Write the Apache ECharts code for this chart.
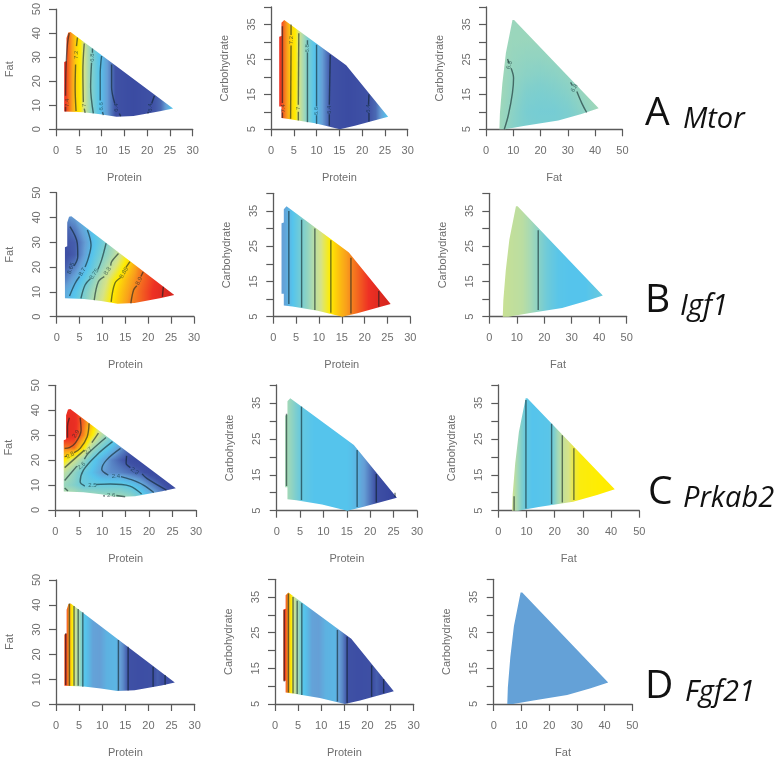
<!DOCTYPE html>
<html><head><meta charset="utf-8">
<style>html,body{margin:0;padding:0;background:#fff}#c{width:784px;height:760px;filter:blur(0.45px)}</style>
<script src="https://cdn.jsdelivr.net/npm/echarts@6/dist/echarts.min.js"></script>
</head><body><div id="c"></div>
<script>
// ---- axis ticks
const proteinTicks=[0,5,10,15,20,25,30];
const fatXTicks=[0,10,20,30,40,50];
const fatYTicks=[0,10,20,30,40,50];
const carbLabelled=[5,15,25,35];
// ---- region outlines
const regionProteinFat=[[1.8,7.4],[1.8,28],[2.3,28.4],[2.3,38],[2.7,40.3],[3.2,40.5],[25.7,8.7],[22.8,7.5],[17,5.5],[13.3,5.2],[9.7,6.3],[6,7.1]];
const regionProteinCarb=[[2.3,8.2],[2.3,11.5],[1.8,11.5],[1.8,31.5],[2.3,31.7],[2.3,35.5],[2.9,36.3],[16.5,23.3],[25.7,8.6],[18.4,6],[15.1,5],[9.7,6.7],[4.2,7.9]];
const regionFatCarb=[[4.9,5],[5.1,9.6],[6,18.2],[7.3,26.9],[9.7,36.3],[10.3,36.3],[41.3,11],[35,9.4],[26.5,7.5],[14.3,6],[7,5]];
// ---- value ranges per gene
const mtorRange=[6.3,7.5], igf1Range=[8.61,8.96], prkab2Range=[2.25,2.95], fgf21Range=[0,1];
// ---- Mtor
const mtorProteinX=[1.8,2.5,3.5,4.5,5.3,6.3,8,9,10,11,13,17,21.5,23,25.7];
const mtorProteinV=[7.42,7.36,7.26,7.16,7.12,7,6.8,6.71,6.63,6.56,6.4,6.35,6.4,6.44,6.68];
const mtorFatX=[5,10,15,20,25,30,35,41];
const mtorCarbY=[5,10,15,20,25,30,36];
const mtorFatCarbV=[
[6.88,6.82,6.79,6.78,6.78,6.79,6.81,6.85],
[6.88,6.83,6.78,6.77,6.77,6.79,6.83,6.88],
[6.89,6.84,6.8,6.79,6.8,6.82,6.86,6.9],
[6.89,6.85,6.83,6.82,6.83,6.85,6.88,6.9],
[6.89,6.86,6.85,6.85,6.86,6.87,6.89,6.9],
[6.88,6.87,6.87,6.87,6.87,6.88,6.89,6.9],
[6.88,6.87,6.87,6.87,6.87,6.88,6.89,6.9]];
const mtorPFLines=[[[2.9,40],[2.5,35.2],[2.2,25.7],[2.1,14]],[[2.1,9.3],[2.1,7.4]],[[4.7,38.2],[4.5,34.6]],[[4.3,27],[4.2,17.5],[4.4,7.6]],[[6.2,35.7],[5.9,24.3],[6,11.3]],[[6.2,8.6],[6.4,6.8]],[[8,33.6],[8,31.8]],[[7.8,27.7],[7.6,17.5],[8.2,6.6]],[[10,30.5],[9.7,23],[9.7,12]],[[10.2,7.2],[10.4,5.9]],[[12.2,27],[12.2,17.5],[12.9,10.7]],[[13.9,6.6],[14.2,5.4]],[[21.6,14],[21,10.7]],[[20.3,7.2],[20.1,6.6]]];
const mtorPFLabels=[[2.5,11,'7.4',90],[4.4,31,'7.2',90],[6.2,10,'7',90],[8,29.8,'6.8',90],[10,9.6,'6.6',90],[13.3,9,'6.4',90],[20.7,9,'6.4',90]];
const mtorPCLines=[[[2.5,34.5],[2.5,12.5]],[[2.5,9.8],[2.5,8.2]],[[4.4,35],[4.4,32]],[[4.4,29],[4.3,8]],[[6.1,32.5],[6,12]],[[6,10],[6,7.5]],[[8,30.5],[8,29.3]],[[8,27],[8,7]],[[10,29.2],[10,11.5]],[[10,9],[10,6.5]],[[13,26.3],[12.8,12]],[[12.8,9.3],[12.8,6]],[[21.5,15],[21.4,12]],[[21.5,9.7],[21.5,7.2]]];
const mtorPCLabels=[[2.6,11,'7.4',90],[4.4,30.5,'7.2',90],[6.1,11,'7',90],[8,28.2,'6.8',90],[10,10.2,'6.6',90],[12.9,10.6,'6.4',90],[21.4,10.9,'6.4',90]];
const mtorFCLines=[[[7.9,25.1],[8.4,24]],[[9.2,22.5],[10.1,19.7],[9.7,15.4],[8.2,9.1],[6.7,5]],[[31,18.4],[31.7,17.5]],[[33.3,15.8],[35.1,12.5],[36.9,9.8]]];
const mtorFCLabels=[[8.6,23.4,'6.8',75],[32.4,16.8,'6.8',60]];
// ---- Igf1
const igf1GridX=[2,4,6,8,10,12,14,16,18,20,22,24,26];
const igf1GridY=[5,10,15,20,25,30,35,40];
const igf1ProteinFatV=[
[8.695,8.725,8.76,8.795,8.825,8.85,8.875,8.9,8.91,8.925,8.94,8.955,8.97],
[8.69,8.715,8.75,8.785,8.815,8.845,8.87,8.893,8.91,8.925,8.94,8.955,8.97],
[8.665,8.69,8.725,8.765,8.805,8.835,8.86,8.885,8.905,8.92,8.935,8.95,8.97],
[8.645,8.665,8.695,8.735,8.775,8.81,8.84,8.87,8.9,8.92,8.935,8.95,8.97],
[8.635,8.645,8.68,8.72,8.755,8.785,8.82,8.855,8.89,8.92,8.935,8.95,8.97],
[8.64,8.645,8.675,8.71,8.74,8.775,8.81,8.85,8.89,8.92,8.935,8.95,8.97],
[8.645,8.66,8.69,8.72,8.75,8.78,8.81,8.85,8.89,8.92,8.935,8.95,8.97],
[8.67,8.68,8.71,8.74,8.77,8.8,8.83,8.86,8.89,8.92,8.935,8.95,8.97]];
const igf1PFLines=[[[2.9,36.3],[4.5,29.6],[4.6,24.2],[3.8,20.5]],[[6.7,35],[7.5,28.9],[6.9,23.5],[6.2,20]],[[5,16.2],[4,13.4],[2.8,8.3]],[[10.8,29.6],[9.8,22.8],[9,19]],[[7.4,15.4],[6.2,12.8],[5.3,7.4]],[[13.5,25.5],[12,22.2],[11.8,20.6]],[[10.4,16.2],[9.1,14.1],[8.2,6.7]],[[16,22.2],[15.1,19.8]],[[14,15.8],[12.7,13.4],[11.9,6]],[[18.9,18.1],[18.4,16.2]],[[17.5,12.5],[16.8,10.8],[16.2,5.4]],[[23.3,12.1],[23.1,8]]];
const igf1PFLabels=[[3.1,19.5,'8.65',70],[5.6,18.1,'8.7',60],[8.2,17.2,'8.75',55],[11.1,18.4,'8.8',55],[14.7,17.7,'8.85',60],[18,14.4,'8.9',65]];
const igf1ProteinX=[1.8,2.5,3.4,4.8,6.2,7.5,9.1,10.8,12.6,15,17,20,23.1,25.7];
const igf1ProteinV=[8.68,8.685,8.7,8.725,8.75,8.77,8.8,8.825,8.85,8.88,8.9,8.925,8.95,8.965];
const igf1PCLines=[[[3.4,35],[3.4,8.6]],[[6.2,32.5],[6.2,7.6]],[[9.1,30],[9.1,6.9]],[[12.6,26.7],[12.6,6.1]],[[17,21.7],[17,5.9]],[[23.1,12.3],[23.1,7.8]]];
const igf1FatX=[5,8,12,15,17.8,21,25,30,35,41.3];
const igf1FatV=[8.81,8.805,8.8,8.785,8.765,8.74,8.72,8.715,8.715,8.735];
const igf1FCLines=[[[17.8,29.5],[17.8,6.9]]];
// ---- Prkab2
const prkab2GridX=[2,4,6,8,10,12,14,16,18,20,22,24,26];
const prkab2GridY=[5,10,15,20,25,30,35,40];
const prkab2ProteinFatV=[
[2.64,2.64,2.62,2.62,2.6,2.6,2.6,2.58,2.52,2.46,2.4,2.34,2.3],
[2.58,2.55,2.5,2.5,2.5,2.5,2.5,2.47,2.43,2.37,2.33,2.29,2.27],
[2.63,2.57,2.5,2.45,2.39,2.37,2.36,2.34,2.32,2.29,2.27,2.26,2.25],
[2.73,2.66,2.58,2.48,2.42,2.36,2.32,2.29,2.27,2.26,2.25,2.25,2.25],
[2.84,2.85,2.74,2.6,2.52,2.45,2.38,2.32,2.28,2.26,2.25,2.25,2.25],
[2.92,2.91,2.83,2.72,2.62,2.54,2.46,2.38,2.3,2.27,2.25,2.25,2.25],
[2.92,2.91,2.85,2.76,2.66,2.58,2.5,2.4,2.32,2.28,2.25,2.25,2.25],
[2.9,2.9,2.85,2.75,2.66,2.58,2.5,2.4,2.32,2.28,2.25,2.25,2.25]];
const prkab2PFLines=[[[15.2,21.7],[15.1,18.7],[16,17]],[[18.5,14.5],[19.5,12.7],[23.7,8]],[[13.9,24.7],[10.9,20],[9.9,16.3],[11.3,14]],[[14,13.4],[16,12.3],[18.8,10],[21,7]],[[12.2,27.4],[8.8,22],[6,16],[5.3,11.3],[6.3,9.6]],[[8.7,10.2],[11.7,10.4],[15.9,9.6],[18.4,6.4]],[[10.8,29.1],[7,22.7],[6.2,20.4]],[[4.6,17.6],[2,11.8]],[[10.2,5.7],[10.6,5.6]],[[13,5.8],[14.9,5.3]],[[2,8.8],[2.7,7.6]],[[9.2,30.8],[7.8,27]],[[6.2,24],[2,17]],[[7.2,34.8],[6.8,29.4],[5.3,24.7],[4,23]],[[2.5,21.6],[2,21.4]],[[5.3,37],[5.5,32],[4.2,26.7],[3,25],[2,24.7]],[[3,37],[2.6,33.5],[2.6,29]]];
const prkab2PFLabels=[[16.9,15.6,'2.3',-35],[12.9,13.4,'2.4',0],[7.9,9.9,'2.5',0],[11.9,5.7,'2.6',0],[5.6,17.7,'2.6',40],[7,23.8,'2.7',40],[3.2,22,'2.8',30],[4.4,30.5,'2.9',55]];
const prkab2ProteinX=[1.8,2.1,3.5,5.3,8,15,16,17.2,19,21.3,23.5,25.7];
const prkab2ProteinV=[2.6,2.6,2.56,2.49,2.46,2.46,2.45,2.43,2.38,2.3,2.27,2.24];
const prkab2PCLines=[[[2.1,32],[2.1,11.9]],[[5.3,34],[5.3,8]],[[17.2,21.9],[17.2,6]],[[21.3,15.2],[21.3,7.3]],[[25.3,10],[25.3,8.8]]];
const prkab2FatX=[5,7,9.8,12,18,18.9,21,22.7,25,26.8,29,41.3];
const prkab2FatV=[2.66,2.59,2.49,2.46,2.47,2.5,2.59,2.64,2.67,2.7,2.72,2.73];
const prkab2FCLines=[[[5.6,9],[5.6,5]],[[9.8,35.8],[9.8,5.6]],[[18.9,29.2],[18.9,6.9]],[[22.7,26],[22.7,7.3]],[[26.8,22.4],[26.8,8]]];
// ---- Fgf21 (no readable contour values: relative scale)
const fgf21ProteinX=[1.8,2.1,2.5,3,3.4,3.9,4.5,5,5.5,6,7,8,9.5,11,13,13.5,14.5,15.6,18,21,22,23.6,25.7];
const fgf21ProteinV=[.87,.93,.85,.78,.7,.62,.54,.5,.42,.32,.27,.21,.2,.25,.26,.22,.17,.08,.06,.07,.1,.06,.07];
const fgf21PFLines=[[[2.1,28.5],[2.1,7.7]],[[2.9,40.5],[2.9,7.4]],[[3.9,39.5],[3.9,7.4]],[[4.8,38.3],[4.8,7.4]],[[5.8,37],[5.8,7]],[[13.5,25.8],[13.5,5.4]],[[15.6,23.1],[15.6,5.4]],[[21,15],[21,7]],[[23.6,11.7],[23.6,7.7]]];
const fgf21PCLines=[[[2,31.4],[2,11.3]],[[2.9,36],[2.9,8.2]],[[3.9,35],[3.9,8]],[[4.8,34],[4.8,7.8]],[[5.8,33.3],[5.8,7.5]],[[13.5,25.8],[13.5,5.7]],[[15.6,23.9],[15.6,5.2]],[[20.9,15.8],[20.9,7]],[[23.5,12],[23.5,8]]];
const fgf21FatX=[5,41.3];
const fgf21FatV=[.205,.205];
// ---- gene captions
const geneLetters=['A','B','C','D'];
const geneNames=['Mtor','Igf1','Prkab2','Fgf21'];

// palette used by the figure (position 0..1)
const palette=[[0,'#36459f'],[.08,'#3f51a5'],[.2,'#659fd6'],[.3,'#55c4ec'],[.42,'#80cfcc'],[.5,'#a6d9b5'],[.6,'#d6e387'],[.68,'#ffed00'],[.8,'#f9a01b'],[.92,'#ee3124'],[1,'#d8261f']];
const rgb=h=>[1,3,5].map(i=>parseInt(h.substr(i,2),16));
const palRgb=palette.map(p=>[p[0],rgb(p[1])]);
function colorAt(t){
  t=Math.max(0,Math.min(1,t));
  for(let i=1;i<palRgb.length;i++){
    if(t<=palRgb[i][0]){
      const a=palRgb[i-1],b=palRgb[i],f=(t-a[0])/(b[0]-a[0]);
      const c=a[1].map((v,k)=>Math.round(v+(b[1][k]-v)*f));
      return `rgb(${c[0]},${c[1]},${c[2]})`;
    }
  }
  return palette[palette.length-1][1];
}
function pick(xs,x){
  let i=0; while(i<xs.length-2&&x>xs[i+1])i++;
  const f=xs.length>1?Math.max(0,Math.min(1,(x-xs[i])/(xs[i+1]-xs[i]))):0;
  return [i,f];
}
function fieldRenderer(p){
  const norm=v=>(v-p.range[0])/(p.range[1]-p.range[0]);
  return function(params,api){
    const poly=p.region.map(q=>api.coord(q));
    const xs=poly.map(q=>q[0]),ys=poly.map(q=>q[1]);
    const left=Math.floor(Math.min(...xs)),right=Math.ceil(Math.max(...xs)),top=Math.floor(Math.min(...ys)),bottom=Math.ceil(Math.max(...ys));
    const x0=api.coord([0,p.yAxisMin])[0],x1=api.coord([p.xMax,p.yAxisMin])[0];
    const children=[],step=1;
    const rowsY=p.gy?p.gy.map(y=>api.coord([0,y])[1]):null;
    for(let px=left;px<right;px+=step){
      const dx=(px+step/2-x0)/(x1-x0)*p.xMax;
      const [i,f]=pick(p.gx,dx);
      const column=p.rows.map(r=>r[i]+(r[i+1]-r[i])*f);
      let fill;
      if(!p.gy){fill=colorAt(norm(column[0]));}
      else{
        const stops=[];
        for(let r=0;r<column.length-1;r++){
          for(let s=0;s<4;s++){
            stops.push({offset:(r+s/4)/(column.length-1),color:colorAt(norm(column[r]+(column[r+1]-column[r])*s/4))});
          }
        }
        stops.push({offset:1,color:colorAt(norm(column[column.length-1]))});
        fill=new echarts.graphic.LinearGradient(0,rowsY[0],0,rowsY[rowsY.length-1],stops,true);
      }
      children.push({type:'rect',shape:{x:px,y:top,width:step,height:bottom-top},style:{fill}});
    }
    return {type:'group',clipPath:{type:'polygon',shape:{points:poly}},children};
  };
}

const PF=regionProteinFat,PC=regionProteinCarb,FC=regionFatCarb;
const panels=[
 {box:[56,7.3,136.7,122],kind:'PF',region:PF,range:mtorRange,gx:mtorProteinX,rows:[mtorProteinV],lines:mtorPFLines,labels:mtorPFLabels},
 {box:[271,7,136.7,122.3],kind:'PC',region:PC,range:mtorRange,gx:mtorProteinX,rows:[mtorProteinV],lines:mtorPCLines,labels:mtorPCLabels},
 {box:[486,7,136.4,122.3],kind:'FC',region:FC,range:mtorRange,gx:mtorFatX,gy:mtorCarbY,rows:mtorFatCarbV,lines:mtorFCLines,labels:mtorFCLabels},
 {box:[56.7,192.7,137.3,124],kind:'PF',region:PF,range:igf1Range,gx:igf1GridX,gy:igf1GridY,rows:igf1ProteinFatV,lines:igf1PFLines,labels:igf1PFLabels},
 {box:[273.3,193.3,137,123.4],kind:'PC',region:PC,range:igf1Range,gx:igf1ProteinX,rows:[igf1ProteinV],lines:igf1PCLines},
 {box:[489.3,193.3,137.4,123.4],kind:'FC',region:FC,range:igf1Range,gx:igf1FatX,rows:[igf1FatV],lines:igf1FCLines},
 {box:[55.3,385.3,140.7,124.7],kind:'PF',region:PF,range:prkab2Range,gx:prkab2GridX,gy:prkab2GridY,rows:prkab2ProteinFatV,lines:prkab2PFLines,labels:prkab2PFLabels},
 {box:[276.7,385,140.3,125.7],kind:'PC',region:PC,range:prkab2Range,gx:prkab2ProteinX,rows:[prkab2ProteinV],lines:prkab2PCLines},
 {box:[498.3,385,141,125.7],kind:'FC',region:FC,range:prkab2Range,gx:prkab2FatX,rows:[prkab2FatV],lines:prkab2FCLines},
 {box:[56,580,138.7,124],kind:'PF',region:PF,range:fgf21Range,gx:fgf21ProteinX,rows:[fgf21ProteinV],lines:fgf21PFLines},
 {box:[275,579.3,138.7,124.7],kind:'PC',region:PC,range:fgf21Range,gx:fgf21ProteinX,rows:[fgf21ProteinV],lines:fgf21PCLines},
 {box:[493.7,579.3,138.6,124.7],kind:'FC',region:FC,range:fgf21Range,gx:fgf21FatX,rows:[fgf21FatV]}
];
const axisColor='#5a5a5a',textColor='#6e6e6e',font='"Liberation Sans",Arial,sans-serif';
const axisBase={axisLine:{onZero:false,lineStyle:{color:axisColor,width:1.3}},axisTick:{length:7,lineStyle:{color:axisColor,width:1.2}},splitLine:{show:false},nameLocation:'middle',nameTextStyle:{color:textColor,fontSize:11,fontFamily:font}};
const grids=[],xAxes=[],yAxes=[],series=[];
panels.forEach((p,i)=>{
  const [l,t,w,h]=p.box;
  grids.push({left:l,top:t,width:w,height:h});
  const isFat=p.kind==='FC';
  p.xMax=isFat?50:30;
  xAxes.push({...axisBase,gridIndex:i,type:'value',min:0,max:p.xMax,interval:isFat?10:5,name:isFat?'Fat':'Protein',nameGap:43,
    axisLabel:{margin:16,color:textColor,fontSize:11,fontFamily:font,showMinLabel:true,showMaxLabel:true}});
  const isPF=p.kind==='PF';
  p.yAxisMin=isPF?0:5;
  yAxes.push({...axisBase,gridIndex:i,type:'value',min:isPF?0:5,max:isPF?50:40,interval:isPF?10:5,name:isPF?'Fat':'Carbohydrate',nameGap:41,
    axisLabel:{margin:14,rotate:90,color:textColor,fontSize:11,fontFamily:font,showMinLabel:true,showMaxLabel:true,align:'center',
      formatter:v=>isPF?String(v):(carbLabelled.includes(v)?String(v):'')}});
  series.push({type:'custom',xAxisIndex:i,yAxisIndex:i,silent:true,clip:false,encode:{x:0,y:1},data:[[p.region[0][0],p.region[0][1]]],renderItem:fieldRenderer(p),z:2});
  (p.lines||[]).forEach(seg=>series.push({type:'line',xAxisIndex:i,yAxisIndex:i,data:seg,smooth:.35,symbol:'none',silent:true,z:3,lineStyle:{color:'rgba(10,30,35,.58)',width:1.4}}));
  if(p.labels) series.push({type:'scatter',xAxisIndex:i,yAxisIndex:i,symbolSize:0,silent:true,z:4,
    data:p.labels.map(q=>({value:[q[0],q[1]],label:{show:true,position:'inside',formatter:q[2],rotate:q[3],fontSize:6,color:'rgba(10,40,45,.8)',fontFamily:font}}))});
});
const letterX=[645,645,648,645],nameX=[683,680,683,685],baseY=[130,317,509,703];
const graphic=[];
geneLetters.forEach((g,i)=>{
  graphic.push({type:'text',left:letterX[i],top:baseY[i]-36,style:{text:g,font:'39px "Open Sans",sans-serif',fill:'#111'}});
  graphic.push({type:'text',left:nameX[i],top:baseY[i]-25,style:{text:geneNames[i],font:'italic 29px "Open Sans",sans-serif',fill:'#111'}});
});
const chart=echarts.init(document.getElementById('c'),null,{renderer:'canvas'});
chart.setOption({animation:false,backgroundColor:'#fff',grid:grids,xAxis:xAxes,yAxis:yAxes,series,graphic});
</script></body></html>
